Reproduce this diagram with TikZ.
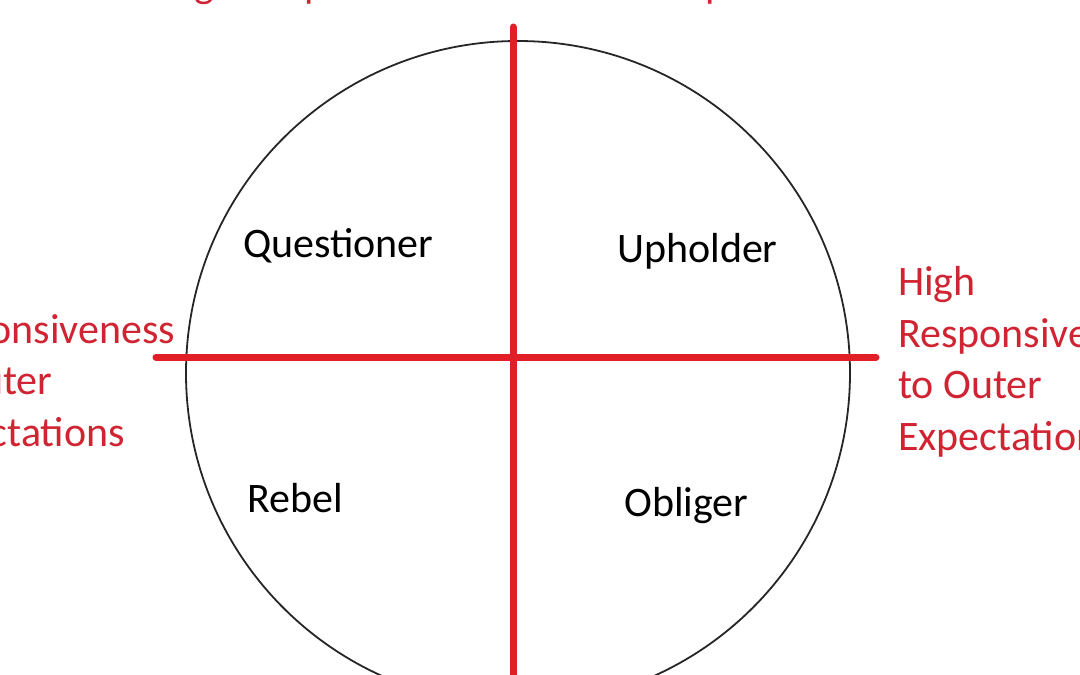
\documentclass[tikz,border=0pt]{standalone}
\usepackage{fontspec}
\setmainfont{Carlito}
\usetikzlibrary{positioning}
\definecolor{axisred}{RGB}{226,30,38}
\definecolor{labelred}{RGB}{208,36,50}

\begin{document}
\begin{tikzpicture}[x=1bp, y=-1bp,
    quadrant/.style={anchor=base west, inner sep=0pt, font=\fontsize{42bp}{51.5bp}\selectfont},
    axislabel/.style={quadrant, text=labelred},
    axis/.style={draw=axisred, line width=7bp, line cap=round},
    ]
    \useasboundingbox (0,0) rectangle (1080,675);

    % outer circle
    \coordinate (centre) at (518,373);
    \draw[line width=1.8bp, black!85] (centre) circle[radius=332];

    % axes (end points of the cross)
    \coordinate (north) at (513,27);
    \coordinate (south) at (513,700);
    \coordinate (west) at (156,357);
    \coordinate (east) at (876,357);
    \draw[axis] (north) -- (south);
    \draw[axis] (west) -- (east);

    % the four tendencies
    \node[quadrant] (questioner) at (243,257) {Questioner};
    \node[quadrant] (upholder) at (617,262) {Upholder};
    \node[quadrant] (rebel) at (247,512) {Rebel};
    \node[quadrant] (obliger) at (624,516) {Obliger};

    % axis labels (cut by the page edge), base = last line
    \node[axislabel, align=left] (outerhigh) at (898,450) {High\\Responsiveness\\to Outer\\Expectations};
    \node[axislabel, align=left] (outerlow) at (-92,446) {Low\\Responsiveness\\to Outer\\Expectations};
    \node[axislabel, anchor=base] (innerhigh) at (521,-2) {High Responsiveness to Inner Expectations};
\end{tikzpicture}
\end{document}
